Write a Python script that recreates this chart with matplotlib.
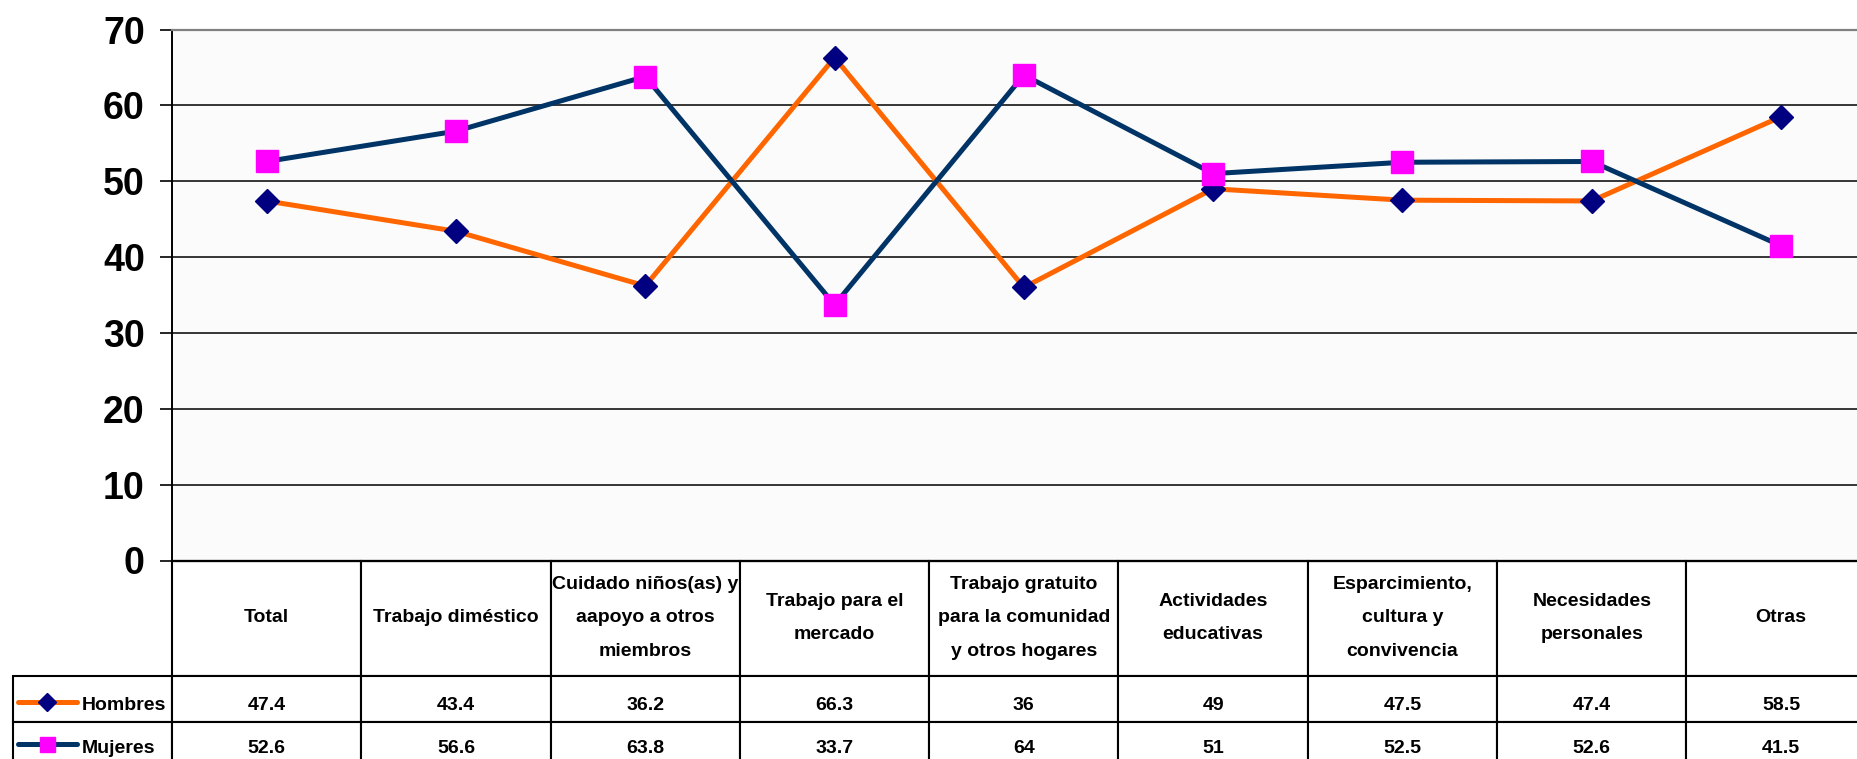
# -*- coding: utf-8 -*-
import matplotlib
matplotlib.use('Agg')
import matplotlib.pyplot as plt
import matplotlib.transforms as mtransforms
from matplotlib.table import Table
from matplotlib.lines import Line2D

plt.rcParams['font.family'] = ['Liberation Sans', 'DejaVu Sans']

# datos
categorias = ['Total', 'Trabajo diméstico', 'Cuidado niños(as) y\naapoyo a otros\nmiembros',
              'Trabajo para el\nmercado', 'Trabajo gratuito\npara la comunidad\ny otros hogares',
              'Actividades\neducativas', 'Esparcimiento,\ncultura y\nconvivencia',
              'Necesidades\npersonales', 'Otras']
hombres = [47.4, 43.4, 36.2, 66.3, 36, 49, 47.5, 47.4, 58.5]
mujeres = [52.6, 56.6, 63.8, 33.7, 64, 51, 52.5, 52.6, 41.5]
series = ['Hombres', 'Mujeres']
yticks = [0, 10, 20, 30, 40, 50, 60, 70]

W, H = 1858, 759
col_w = 189.3
fig = plt.figure(figsize=(W / 100, H / 100), dpi=100)
ax = fig.add_axes([172 / W, 1 - 560.5 / H, 9 * col_w / W, 531 / H])
ax.set_facecolor('#fbfbfb')

x = list(range(len(categorias)))
ax.plot(x, hombres, color='#ff6600', lw=3.6, marker='D', ms=12.2,
        mfc='#000080', mec='#000080', zorder=3)
ax.plot(x, mujeres, color='#003366', lw=3.6, marker='s', ms=16.5,
        mfc='#ff00ff', mec='#ff00ff', zorder=3)

ax.set_xlim(-0.5, len(categorias) - 0.5)
ax.set_ylim(0, 70)
ax.set_yticks(yticks)
ax.set_yticklabels([str(t) for t in yticks], fontsize=27, fontweight='bold')
ax.tick_params(axis='y', length=8.6, width=1.2, pad=11)
ax.set_xticks([])
ax.yaxis.grid(True, color='black', lw=1.1)
ax.set_axisbelow(True)
ax.spines['left'].set_linewidth(1.4)
ax.spines['bottom'].set_linewidth(1.6)
ax.spines['top'].set_color('#808080')
ax.spines['top'].set_linewidth(1.6)
ax.spines['right'].set_visible(False)

# tabla de datos (bordes y cabecera)
tabla = Table(ax, bbox=[-159 / (9 * col_w), -207 / 531, 1 + 159 / (9 * col_w), 207 / 531])
alto_cab, alto_fila = 115, 46
tabla.add_cell(0, 0, 159, alto_cab, text='').visible_edges = ''
for j, cat in enumerate(categorias):
    c = tabla.add_cell(0, j + 1, col_w, alto_cab, text=cat, loc='center')
    c.get_text().set_linespacing(2.25)
for i in range(len(series)):
    tabla.add_cell(i + 1, 0, 159, alto_fila, text='')
    for j in range(len(categorias)):
        tabla.add_cell(i + 1, j + 1, col_w, alto_fila, text='')
tabla.auto_set_font_size(False)
for cell in tabla.get_celld().values():
    cell.set_linewidth(1.5)
    cell.set_edgecolor('black')
    cell.set_facecolor('white')
    cell.get_text().set_fontsize(14)
    cell.get_text().set_fontweight('bold')
ax.add_table(tabla)

# valores y etiquetas de fila
trans = mtransforms.blended_transform_factory(ax.transData, fig.transFigure)
filas = [(hombres, 710.5, '#ff6600', 'D', '#000080', 8.7),
         (mujeres, 753, '#003366', 's', '#ff00ff', 10.8)]
for nombre, (vals, base, col, mk, mc, ms) in zip(series, filas):
    yb = 1 - base / H
    for j, v in enumerate(vals):
        ax.text(j, yb, f'{v:g}', transform=trans, ha='center', va='baseline',
                fontsize=14, fontweight='bold')
    fig.text(82 / W, yb, nombre, ha='left', va='baseline', fontsize=14,
             fontweight='bold')
    # clave de leyenda
    yk = 1 - (base - 9) / H
    fig.add_artist(Line2D([18 / W, 77 / W], [yk, yk], color=col, lw=3.6,
                          solid_capstyle='round', transform=fig.transFigure))
    fig.add_artist(Line2D([47.5 / W], [yk], marker=mk, ms=ms, mfc=mc, mec=mc,
                          transform=fig.transFigure))

fig.savefig('out.png', dpi=100)
